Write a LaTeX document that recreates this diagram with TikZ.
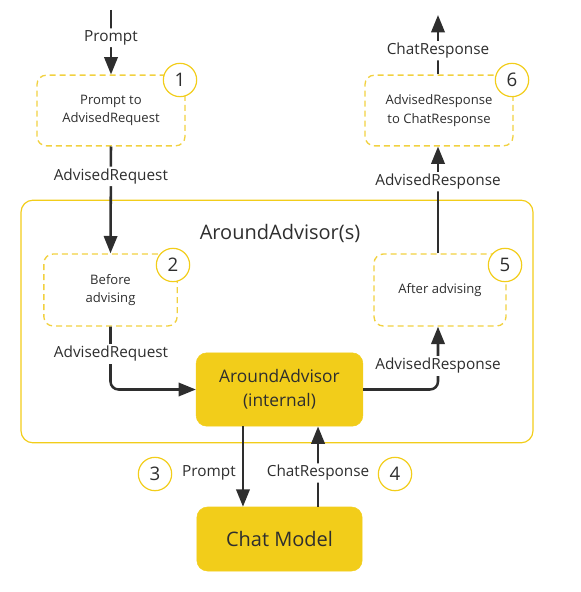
\documentclass[tikz,border=0pt]{standalone}
\usepackage{fontspec}
\setmainfont{Open Sans}
\usetikzlibrary{positioning}
\usetikzlibrary{arrows.meta}
\definecolor{advyellow}{HTML}{F2CD1A}
\definecolor{dashyellow}{HTML}{F1D140}
\definecolor{inkgray}{HTML}{2E2E2E}

\tikzset{
  stage/.style={draw=dashyellow, dashed, dash pattern=on 4.5pt off 3pt, line width=1pt, rounded corners=7pt,
    align=center, text=inkgray, font=\fontsize{9.8}{14}\selectfont, inner sep=0pt},
  core/.style={fill=advyellow, draw=advyellow, rounded corners=8pt, align=center, text=inkgray, inner sep=0pt},
  stepnum/.style={circle, draw=advyellow, fill=white, line width=0.9pt, minimum size=25pt, inner sep=0pt,
    text=inkgray, font=\fontsize{14}{14}\selectfont},
  flow/.style={draw=inkgray, line width=1.9pt, rounded corners=6pt, -{Triangle[length=13pt,width=10pt]}},
  tag/.style={fill=white, inner sep=1.5pt, text=inkgray, font=\fontsize{11.5}{13}\selectfont},
}

\begin{document}
\begin{tikzpicture}[x=0.75pt, y=-0.75pt]
\useasboundingbox (0,0) rectangle (581,592);

% Around advisor frame
\node[draw=advyellow, line width=0.9pt, rounded corners=9pt, minimum width=384pt, minimum height=182pt] (around) at (277,321.5) {};
\node[text=inkgray, font=\fontsize{15}{15}\selectfont] (aroundlbl) at (280,233) {AroundAdvisor(s)};

% Steps
\node[stage, minimum width=111pt, minimum height=53pt] (toreq) at (111,110.5) {Prompt to\\AdvisedRequest};
\node[stage, minimum width=100pt, minimum height=54pt] (before) at (110.5,290) {Before\\advising};
\node[stage, minimum width=99pt, minimum height=54pt] (after) at (440,290) {After advising};
\node[stage, minimum width=111pt, minimum height=53pt] (toresp) at (439,110.5) {AdvisedResponse\\to ChatResponse};

\node[core, minimum width=125pt, minimum height=55pt, font=\fontsize{13}{18}\selectfont] (internal) at (279.5,389.5) {AroundAdvisor\\(internal)};
\node[core, minimum width=124pt, minimum height=48pt, font=\fontsize{15}{15}\selectfont] (chat) at (279.5,539) {Chat Model};

% Free ends
\coordinate (start) at (111,10);
\coordinate (finish) at (438,15);

% Flow
\draw[flow] (start) -- (toreq.north) node[tag, pos=0.43] {Prompt};
\draw[flow] (toreq.south) -- (before.north) node[tag, pos=0.28] {AdvisedRequest};
\draw[flow] (before.south) |- (internal.west);
\node[tag] (reqlbl) at (111,354) {AdvisedRequest};
\draw[flow] (internal.east) -| ([xshift=-1.5pt]after.south);
\node[tag] (resplbl) at (438,366) {AdvisedResponse};
\draw[flow] ([xshift=-1.5pt]after.north) -- ([xshift=-0.75pt]toresp.south) node[tag, pos=0.67] {AdvisedResponse};
\draw[flow] ([xshift=-0.75pt]toresp.north) -- (finish) node[tag, pos=0.4] {ChatResponse};

\draw[flow] ([xshift=-27.4pt]internal.south) -- ([xshift=-27.4pt]chat.north) node[tag, pos=0.58, left=3pt] {Prompt};
\draw[flow] ([xshift=28.9pt]chat.north) -- ([xshift=28.9pt]internal.south) node[tag, pos=0.42] {ChatResponse};

% Step numbers
\node[stepnum] (n1) at (180,80) {1};
\node[stepnum] (n2) at (173,265) {2};
\node[stepnum] (n3) at (155,474) {3};
\node[stepnum] (n4) at (395,474) {4};
\node[stepnum] (n5) at (505,265) {5};
\node[stepnum] (n6) at (512,80) {6};

\end{tikzpicture}
\end{document}
